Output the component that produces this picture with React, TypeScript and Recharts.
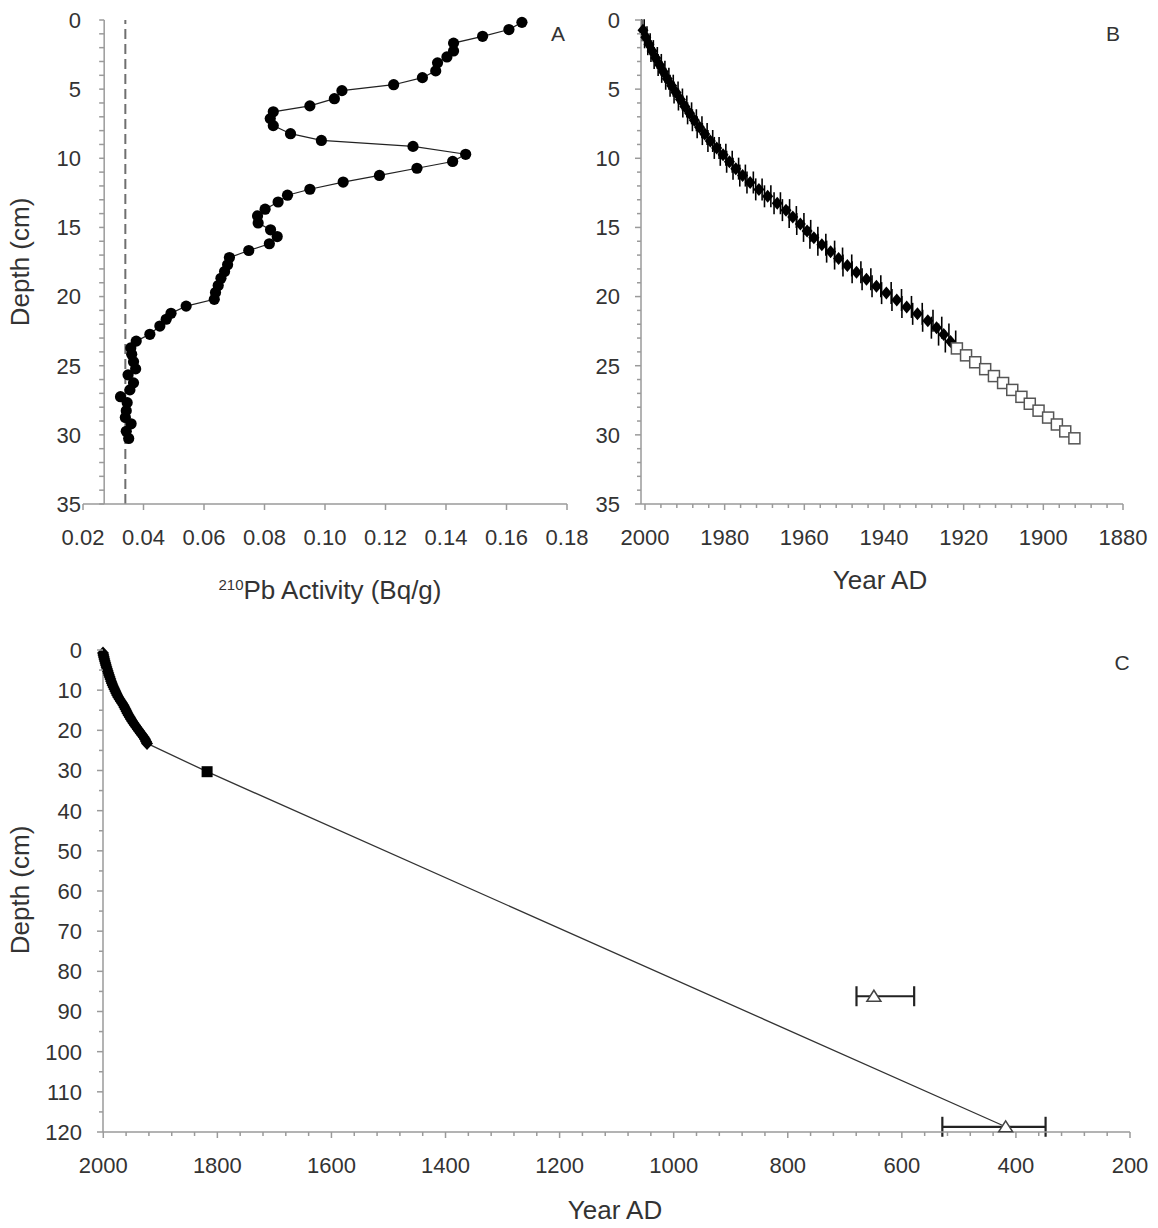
import React from 'react';
import { ScatterChart, Scatter, XAxis, YAxis, ReferenceLine, ErrorBar } from 'recharts';

// A: 210Pb activity vs depth
const PB_DEPTH = [0.17, 0.69, 1.18, 1.67, 2.24, 2.67, 3.1, 3.68, 4.17, 4.68, 5.11, 5.69, 6.21, 6.64, 7.13, 7.64, 8.22, 8.71, 9.14, 9.71, 10.23, 10.72, 11.24, 11.72, 12.24, 12.67, 13.16, 13.68, 14.17, 14.68, 15.17, 15.66, 16.18, 16.67, 17.18, 17.7, 18.19, 18.68, 19.2, 19.71, 20.2, 20.69, 21.21, 21.64, 22.13, 22.73, 23.22, 23.71, 24.17, 24.71, 25.23, 25.66, 26.24, 26.75, 27.24, 27.67, 28.25, 28.74, 29.2, 29.74, 30.26];
const PB_ACTIVITY = [0.1651, 0.1608, 0.1521, 0.1425, 0.1425, 0.1403, 0.1372, 0.1366, 0.1322, 0.1227, 0.1056, 0.1031, 0.095, 0.0829, 0.0819, 0.0829, 0.0886, 0.0988, 0.1291, 0.1465, 0.1422, 0.1304, 0.118, 0.106, 0.095, 0.0876, 0.0845, 0.0802, 0.0777, 0.0779, 0.082, 0.0842, 0.0816, 0.0748, 0.0684, 0.0678, 0.0668, 0.0656, 0.0647, 0.0638, 0.0634, 0.0541, 0.0491, 0.0475, 0.0454, 0.0421, 0.0376, 0.0358, 0.0361, 0.0367, 0.0374, 0.0349, 0.0367, 0.0355, 0.0324, 0.0346, 0.0343, 0.034, 0.0359, 0.0343, 0.0351];
const SUPPORTED_PB = 0.034;
const A_AXIS_CROSS = 0.027;

// B: CRS ages (filled) and extrapolated ages (open squares)
const CRS_DEPTH = [0.75, 1.25, 1.75, 2.25, 2.75, 3.25, 3.75, 4.25, 4.75, 5.25, 5.75, 6.25, 6.75, 7.25, 7.75, 8.25, 8.75, 9.25, 9.75, 10.25, 10.75, 11.25, 11.75, 12.25, 12.75, 13.25, 13.75, 14.25, 14.75, 15.25, 15.75, 16.25, 16.75, 17.25, 17.75, 18.25, 18.75, 19.25, 19.75, 20.25, 20.75, 21.25, 21.75, 22.25, 22.75, 23.25];
const CRS_YEAR = [2000.5, 1999.8, 1999.0, 1998.2, 1997.3, 1996.3, 1995.4, 1994.4, 1993.3, 1992.2, 1991.1, 1990.0, 1988.8, 1987.6, 1986.3, 1985.0, 1983.6, 1982.0, 1980.4, 1978.8, 1977.2, 1975.5, 1973.6, 1971.4, 1969.2, 1966.8, 1964.6, 1962.9, 1961.0, 1959.3, 1957.6, 1955.6, 1953.4, 1951.4, 1949.2, 1946.9, 1944.4, 1941.9, 1939.4, 1936.8, 1934.3, 1931.6, 1929.0, 1926.8, 1925.0, 1923.3];
const CRS_ERR = [0.3, 0.3, 0.3, 0.3, 0.4, 0.4, 0.4, 0.4, 0.4, 0.5, 0.5, 0.5, 0.5, 0.5, 0.6, 0.6, 0.6, 0.6, 0.7, 0.7, 0.7, 0.7, 0.8, 0.8, 0.8, 0.8, 0.9, 0.9, 0.9, 0.9, 1.0, 1.0, 1.0, 1.0, 1.1, 1.1, 1.1, 1.1, 1.2, 1.2, 1.2, 1.2, 1.3, 1.3, 1.3, 1.3];
const EXT_DEPTH = [23.75, 24.25, 24.75, 25.25, 25.75, 26.25, 26.75, 27.25, 27.75, 28.25, 28.75, 29.25, 29.75, 30.25];
const EXT_YEAR = [1921.7, 1919.4, 1917.1, 1914.6, 1912.4, 1910.1, 1907.8, 1905.5, 1903.4, 1901.2, 1898.8, 1896.6, 1894.5, 1892.2];

// C: full age model
const MODEL_DEPTH = [23.25, 30.3, 118.7];
const MODEL_YEAR = [1923.3, 1818, 418];
const PB_BASE_DEPTH = [30.3];
const PB_BASE_YEAR = [1818];
const C14_DEPTH = [86.2, 118.7];
const C14_YEAR = [649, 418];
const C14_ERR = [[70.6, 30.5], [70, 111]];

const FONT = '"Liberation Sans", Arial, Helvetica, sans-serif';
const AXIS = '#9a9a9a';
const TEXT = '#333';

const steps = (a: number, b: number, s: number) => {
  const out: number[] = [];
  for (let v = a; v <= b + 1e-9; v += s) out.push(Math.round(v * 1000) / 1000);
  return out;
};

const isMult = (v: number, m: number) => Math.abs(v / m - Math.round(v / m)) < 1e-6;

const xTick = (major: number, fmt: (v: number) => string) => (p: any) => {
  const v = p.payload.value;
  const big = isMult(v, major);
  return (
    <g>
      <line x1={p.x} x2={p.x} y1={p.y} y2={p.y + (big ? 6 : 4)} stroke={AXIS} strokeWidth={1.5} />
      {big && (
        <text x={p.x} y={p.y + 41} textAnchor="middle" fontSize={22} fill={TEXT} fontFamily={FONT}>
          {fmt(v)}
        </text>
      )}
    </g>
  );
};

const yTick = (major: number, gap: number, marks: boolean) => (p: any) => {
  const v = p.payload.value;
  const big = isMult(v, major);
  return (
    <g>
      {marks && <line x1={p.x - (big ? 6 : 4)} x2={p.x} y1={p.y} y2={p.y} stroke={AXIS} strokeWidth={1.5} />}
      {big && (
        <text x={p.x - gap} y={p.y} dy="0.36em" textAnchor="end" fontSize={22} fill={TEXT} fontFamily={FONT}>
          {v}
        </text>
      )}
    </g>
  );
};

const dot = (p: any) => <circle cx={p.cx} cy={p.cy} r={5.6} fill="#000" />;
const diamond = (rx: number, ry: number) => (p: any) => (
  <polygon points={`${p.cx},${p.cy - ry} ${p.cx + rx},${p.cy} ${p.cx},${p.cy + ry} ${p.cx - rx},${p.cy}`} fill="#000" />
);
const openSquare = (p: any) => <rect x={p.cx - 5.5} y={p.cy - 5.5} width={11} height={11} fill="#fff" stroke="#555" strokeWidth={1.5} />;
const filledSquare = (p: any) => <rect x={p.cx - 5.5} y={p.cy - 5.5} width={11} height={11} fill="#000" />;
const openTriangle = (p: any) => (
  <polygon points={`${p.cx},${p.cy - 6} ${p.cx + 7},${p.cy + 5} ${p.cx - 7},${p.cy + 5}`} fill="#fff" stroke="#444" strokeWidth={1.5} />
);
const axisTick = (p: any) => <line x1={p.cx - 5} x2={p.cx} y1={p.cy} y2={p.cy} stroke={AXIS} strokeWidth={1.5} />;
const none = () => <g />;

const pbData = PB_DEPTH.map((d, i) => ({ x: PB_ACTIVITY[i], y: d }));
const crossTicks = steps(0, 35, 1).map((d) => ({ x: A_AXIS_CROSS, y: d }));
const crsData = CRS_DEPTH.map((d, i) => ({ x: CRS_YEAR[i], y: d, err: CRS_ERR[i] }));
const extData = EXT_DEPTH.map((d, i) => ({ x: EXT_YEAR[i], y: d }));
const modelData = MODEL_DEPTH.map((d, i) => ({ x: MODEL_YEAR[i], y: d }));
const baseData = PB_BASE_DEPTH.map((d, i) => ({ x: PB_BASE_YEAR[i], y: d }));
const c14Data = C14_DEPTH.map((d, i) => ({ x: C14_YEAR[i], y: d, err: C14_ERR[i] }));

const abs = (left: number, top: number): React.CSSProperties => ({ position: 'absolute', left, top });

function Title({ x, y, rotate, children, size = 26 }: any) {
  return (
    <div
      style={{
        position: 'absolute',
        left: x,
        top: y,
        transform: `translate(-50%, -50%)${rotate ? ' rotate(-90deg)' : ''}`,
        whiteSpace: 'nowrap',
        fontSize: size,
        color: TEXT,
        fontFamily: FONT,
        lineHeight: 1,
      }}
    >
      {children}
    </div>
  );
}

export default function App() {
  const axisLine = { stroke: AXIS, strokeWidth: 1.5 };
  return (
    <div style={{ position: 'absolute', left: 0, top: 0, width: 1158, height: 1228, background: '#fff' }}>
      <div style={abs(0, 0)}>
        <ScatterChart width={600} height={620} margin={{ top: 20, right: 33, bottom: 0, left: 0 }}>
          <XAxis
            type="number"
            dataKey="x"
            domain={[0.02, 0.18]}
            ticks={steps(0.02, 0.18, 0.02)}
            interval={0}
            height={116}
            tickSize={0}
            tickMargin={0}
            tickLine={false}
            axisLine={axisLine}
            tick={xTick(0.02, (v) => v.toFixed(2))}
          />
          <YAxis
            type="number"
            dataKey="y"
            domain={[0, 35]}
            reversed
            ticks={steps(0, 35, 5)}
            interval={0}
            width={83}
            tickSize={0}
            tickMargin={0}
            tickLine={false}
            axisLine={false}
            tick={yTick(5, 2, false)}
          />
          <ReferenceLine x={A_AXIS_CROSS} stroke={AXIS} strokeWidth={1.5} />
          <ReferenceLine x={SUPPORTED_PB} stroke="#6f6f6f" strokeWidth={2} strokeDasharray="10 5" />
          <Scatter data={crossTicks} shape={axisTick} isAnimationActive={false} />
          <Scatter data={pbData} shape={dot} line={{ stroke: '#222', strokeWidth: 1.2 }} isAnimationActive={false} />
        </ScatterChart>
      </div>

      <div style={abs(580, 0)}>
        <ScatterChart width={578} height={620} margin={{ top: 20, right: 35, bottom: 0, left: 0 }}>
          <XAxis
            type="number"
            dataKey="x"
            domain={[1880, 2001]}
            reversed
            ticks={steps(1880, 2000, 4)}
            interval={0}
            height={116}
            tickSize={0}
            tickMargin={0}
            tickLine={false}
            axisLine={axisLine}
            tick={xTick(20, (v) => String(v))}
          />
          <YAxis
            type="number"
            dataKey="y"
            domain={[0, 35]}
            reversed
            ticks={steps(0, 35, 1)}
            interval={0}
            width={61}
            tickSize={0}
            tickMargin={0}
            tickLine={false}
            axisLine={axisLine}
            tick={yTick(5, 21, true)}
          />
          <Scatter data={crsData} shape={diamond(5.5, 6.5)} isAnimationActive={false}>
            <ErrorBar dataKey="err" direction="x" width={11} stroke="#000" strokeWidth={1.6} isAnimationActive={false} />
          </Scatter>
          <Scatter data={extData} shape={openSquare} isAnimationActive={false} />
        </ScatterChart>
      </div>

      <div style={abs(0, 620)}>
        <ScatterChart width={1158} height={608} margin={{ top: 30, right: 28, bottom: 0, left: 0 }}>
          <XAxis
            type="number"
            dataKey="x"
            domain={[200, 2000]}
            reversed
            ticks={steps(200, 2000, 40)}
            interval={0}
            height={96}
            tickSize={0}
            tickMargin={0}
            tickLine={false}
            axisLine={axisLine}
            tick={xTick(200, (v) => String(v))}
          />
          <YAxis
            type="number"
            dataKey="y"
            domain={[0, 120]}
            reversed
            ticks={steps(0, 120, 5)}
            interval={0}
            width={103}
            tickSize={0}
            tickMargin={0}
            tickLine={false}
            axisLine={axisLine}
            tick={yTick(10, 21, true)}
          />
          <Scatter data={modelData} shape={none} line={{ stroke: '#333', strokeWidth: 1.3 }} isAnimationActive={false} />
          <Scatter data={crsData} shape={diamond(6, 6.5)} isAnimationActive={false} />
          <Scatter data={baseData} shape={filledSquare} isAnimationActive={false} />
          <Scatter data={c14Data} shape={openTriangle} isAnimationActive={false}>
            <ErrorBar dataKey="err" direction="x" width={10} stroke="#222" strokeWidth={2.2} isAnimationActive={false} />
          </Scatter>
        </ScatterChart>
      </div>

      <Title x={558} y={33} size={21}>A</Title>
      <Title x={1113} y={33} size={21}>B</Title>
      <Title x={1122} y={662} size={21}>C</Title>
      <Title x={20} y={262} rotate>Depth (cm)</Title>
      <Title x={20} y={890} rotate>Depth (cm)</Title>
      <Title x={330} y={590}>
        <sup style={{ fontSize: 15 }}>210</sup>Pb Activity (Bq/g)
      </Title>
      <Title x={880} y={580}>Year AD</Title>
      <Title x={615} y={1210}>Year AD</Title>
    </div>
  );
}
